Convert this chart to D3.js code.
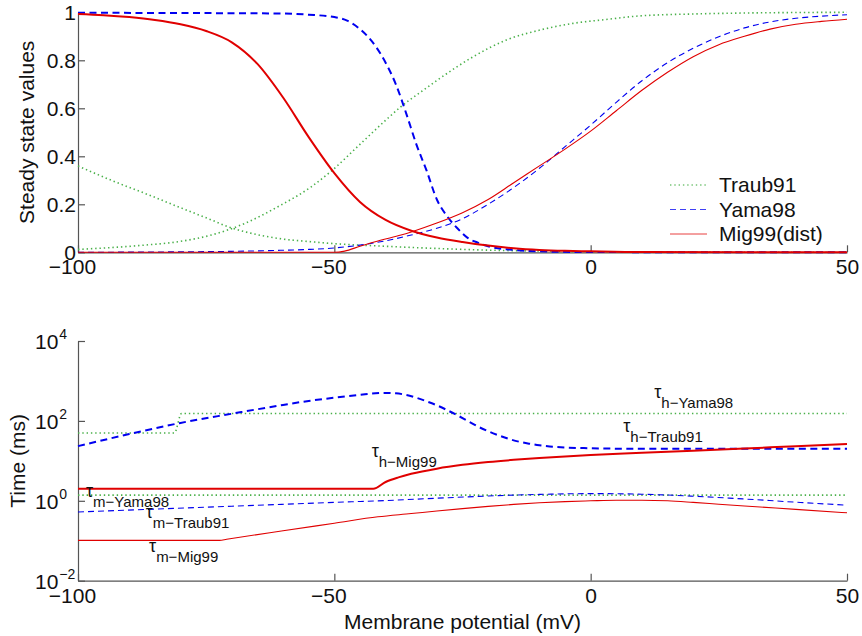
<!DOCTYPE html>
<html><head><meta charset="utf-8">
<script src="https://cdn.jsdelivr.net/npm/d3@7"></script>
<style>
body{margin:0;background:#fff}
text{font-family:"Liberation Sans",Arial,Helvetica,sans-serif;fill:#111}
</style>
</head><body>
<svg id="c" width="862" height="636"></svg>
<script>
// ---------- tick labels ----------
const xTicks = [-100, -50, 0, 50];
const yTopTicks = [0, 0.2, 0.4, 0.6, 0.8, 1];
const yTopTickLabels = ["0", "0.2", "0.4", "0.6", "0.8", "1"];
const yBotTicks = [1e-2, 1, 1e2, 1e4];
const yBotTickExp = ["\u22122", "0", "2", "4"];
const legendLabels = ["Traub91", "Yama98", "Mig99(dist)"];

// ---------- top panel: steady state values ----------
const vTraubM = [-100,-87,-80.5,-74,-67.5,-61,-54.5,-50.5,-45,-40,-37,-33,-29.4,-22.9,-16.4,-9.9,-3.4,3,9.6,20,30,50];
const traubM  = [0.012,0.03,0.044,0.072,0.12,0.19,0.273,0.34,0.45,0.55,0.607,0.67,0.725,0.815,0.885,0.926,0.954,0.97,0.985,0.993,0.997,1.0];
const vTraubH = [-100,-93.5,-87,-80.5,-74,-70.8,-67.5,-61,-54.5,-50,-41,-30,-20,-10,0,50];
const traubH  = [0.36,0.30,0.246,0.19,0.135,0.107,0.086,0.058,0.044,0.036,0.026,0.016,0.009,0.005,0.002,0];
const vYamaH = [-100,-60,-55,-50,-47.5,-45,-42,-40,-38,-36,-34,-32,-30,-28,-26,-24,-22,-20,-15,-10,0,50];
const yamaH  = [0.998,0.995,0.99,0.98,0.965,0.93,0.86,0.79,0.7,0.58,0.45,0.34,0.22,0.15,0.1,0.06,0.04,0.025,0.01,0.004,0.001,0];
const vYamaM = [-100,-80,-70,-61,-55,-50,-45,-40,-35,-30,-25,-20,-15,-10,-5,0,5,10,15,20,25,30,35,40,45,50];
const yamaM  = [0,0.002,0.004,0.008,0.012,0.018,0.03,0.048,0.072,0.1,0.14,0.2,0.27,0.35,0.44,0.53,0.625,0.715,0.79,0.85,0.898,0.935,0.96,0.975,0.984,0.99];
const vMigH = [-100,-95,-90,-85,-80,-75,-70,-65,-60,-55,-50,-45,-40,-35,-30,-25,-20,-15,-10,-5,0,10,50];
const migH  = [0.993,0.988,0.98,0.968,0.95,0.922,0.875,0.785,0.645,0.48,0.33,0.21,0.135,0.09,0.062,0.043,0.028,0.017,0.01,0.006,0.004,0.001,0];
const vMigM = [-100,-50,-48,-45,-41,-37,-35,-30,-25,-20,-15,-10,-5,0,5,10,15,20,25,30,35,40,45,50];
const migM  = [0,0,0.005,0.025,0.05,0.072,0.085,0.122,0.165,0.22,0.29,0.36,0.43,0.505,0.59,0.675,0.75,0.815,0.865,0.9,0.93,0.95,0.962,0.971];

// ---------- bottom panel: time constants (ms) ----------
const vTauHTraub = [-100,-81.2,-79.8,50];
const tauHTraub  = [50,50,153,153];
const vTauMTraub = [-100,50];
const tauMTraub  = [1.39,1.39];
const vTauHYama = [-100,-90,-80,-70,-60,-55,-50,-45,-42,-40,-38,-36,-34,-32,-30,-28,-26,-24,-22,-20,-18,-16,-14,-12,-10,-8,-5,0,10,50];
const tauHYama  = [23.4,46.8,89.1,151,251,316,380,447,490,501,490,447,380,309,245,186,138,100,72.4,55,43.7,35.5,30.2,26.9,24.5,22.9,21.6,20.7,20,20];
const vTauMYama = [-100,-70,-50,-40,-30,-20,-10,0,10,20,30,40,50];
const tauMYama  = [0.525,0.733,0.912,1.016,1.161,1.318,1.445,1.514,1.462,1.303,1.109,0.923,0.776];
const vTauHMig = [-100,-42.4,-40,-37.5,-35,-30,-25,-20,-15,-10,-5,0,10,20,30,40,50];
const tauHMig  = [2.0,2.0,2.95,3.85,4.73,6.38,7.94,9.33,10.59,11.75,12.88,13.96,15.85,17.99,20.42,23.17,26.3];
const vTauMMig = [-100,-72.4,-71,-60,-50,-41.5,-35,-30,-25,-20,-15,-10,-5,0,5,10,15,20,25,30,40,50];
const tauMMig  = [0.102,0.102,0.109,0.178,0.275,0.398,0.479,0.556,0.638,0.724,0.813,0.891,0.955,1.0,1.035,1.035,1.0,0.912,0.822,0.741,0.61,0.501];

// annotations: tau subscripts anchored at (V, ms)
const annV   = [-98.44, -86.8, -86.15, -42.72, 12.39, 6.35];
const annT   = [0.708, 0.211, 0.0299, 7.08, 216, 29.9];
const annSub = ["m\u2212Yama98","m\u2212Traub91","m\u2212Mig99","h\u2212Mig99","h\u2212Yama98","h\u2212Traub91"];

// ---------- styles ----------
const GREEN = "#49b049", BLUE = "#0000f0", RED = "#e00000";
const stTraub = {stroke: GREEN, width: 1.6, dash: "1.4,2.9"};
const stYamaThick = {stroke: BLUE, width: 2, dash: "7,4.5"};
const stYamaThin = {stroke: BLUE, width: 1.1, dash: "6,4"};
const stMigThick = {stroke: RED, width: 2};
const stMigThin = {stroke: RED, width: 1.1};

const svg = d3.select("#c");
const x = d3.scaleLinear().domain([-100, 50]).range([78, 847]);
const yTop = d3.scaleLinear().domain([0, 1]).range([252.3, 12.3]);
const yBot = d3.scaleLog().domain([1e-2, 1e4]).range([580.7, 341]);

function drawLine(vs, ys, yScale, st) {
  const pts = vs.map((v, i) => [v, ys[i]]);
  const line = d3.line().x(d => x(d[0])).y(d => yScale(d[1])).curve(d3.curveMonotoneX);
  svg.append("path").datum(pts)
    .attr("d", line).attr("fill", "none")
    .attr("stroke", st.stroke).attr("stroke-width", st.width)
    .attr("stroke-dasharray", st.dash || null)
    .attr("stroke-linejoin", "round");
}

// ---------- axes ----------
const AXC = "#555";
function styleAxis(g) {
  g.attr("font-size", 21).attr("font-family", "Liberation Sans, Arial, sans-serif");
  g.select(".domain").attr("stroke", AXC).attr("stroke-width", 1.2);
  g.selectAll(".tick line").attr("stroke", AXC).attr("stroke-width", 1.2);
  g.selectAll(".tick text").attr("fill", "#111");
}

// top x axis
svg.append("g").attr("transform", `translate(0,${yTop(0)})`)
  .call(d3.axisBottom(x).tickValues(xTicks).tickSizeInner(-7).tickSizeOuter(0).tickPadding(7).tickFormat(d3.format("d")))
  .call(styleAxis)
  .call(g => g.selectAll(".tick text").attr("dx", d => d < 0 ? -6 : 0));
// top y axis
svg.append("g").attr("transform", `translate(${x(-100)},0)`)
  .call(d3.axisLeft(yTop).tickValues(yTopTicks).tickSizeInner(-7).tickSizeOuter(0).tickPadding(2)
    .tickFormat((d, i) => yTopTickLabels[i]))
  .call(styleAxis);

// bottom x axis
svg.append("g").attr("transform", `translate(0,${yBot(1e-2)})`)
  .call(d3.axisBottom(x).tickValues(xTicks).tickSizeInner(-7).tickSizeOuter(0).tickPadding(7).tickFormat(d3.format("d")))
  .call(styleAxis)
  .call(g => g.selectAll(".tick text").attr("dx", d => d < 0 ? -6 : 0));
// bottom y axis (log)
svg.append("g").attr("transform", `translate(${x(-100)},0)`)
  .call(d3.axisLeft(yBot).tickValues(yBotTicks).tickSizeInner(-7).tickSizeOuter(0).tickFormat(""))
  .call(styleAxis);
yBotTicks.forEach((t, i) => {
  const tx = svg.append("text").attr("x", 35).attr("y", yBot(t) + 8)
    .attr("font-size", 21);
  tx.append("tspan").text("10");
  tx.append("tspan").attr("font-size", 14).attr("dy", -10).attr("dx", 1).text(yBotTickExp[i]);
});

// ---------- top panel lines ----------
drawLine(vTraubM, traubM, yTop, stTraub);
drawLine(vTraubH, traubH, yTop, stTraub);
drawLine(vYamaM, yamaM, yTop, stYamaThin);
drawLine(vYamaH, yamaH, yTop, stYamaThick);
drawLine(vMigM, migM, yTop, stMigThin);
drawLine(vMigH, migH, yTop, stMigThick);

// legend
const legStyles = [
  {stroke: GREEN, width: 1.4, dash: "1.4,2.9"},
  {stroke: BLUE, width: 1, dash: "6,4"},
  {stroke: RED, width: 1}
];
const legY = [185, 209.5, 234];
legendLabels.forEach((lab, i) => {
  svg.append("line").attr("x1", 670).attr("x2", 707).attr("y1", legY[i]).attr("y2", legY[i])
    .attr("stroke", legStyles[i].stroke).attr("stroke-width", legStyles[i].width)
    .attr("stroke-dasharray", legStyles[i].dash || null).attr("stroke-opacity", 0.75);
  svg.append("text").attr("x", 719).attr("y", legY[i]).attr("dy", "0.35em")
    .attr("font-size", 21).text(lab);
});

// ---------- bottom panel lines ----------
drawLine(vTauHTraub, tauHTraub, yBot, stTraub);
drawLine(vTauMTraub, tauMTraub, yBot, stTraub);
drawLine(vTauHYama, tauHYama, yBot, stYamaThick);
drawLine(vTauMYama, tauMYama, yBot, stYamaThin);
drawLine(vTauHMig, tauHMig, yBot, stMigThick);
drawLine(vTauMMig, tauMMig, yBot, stMigThin);

// annotations
annSub.forEach((s, i) => {
  const t = svg.append("text").attr("x", x(annV[i])).attr("y", yBot(annT[i]));
  t.append("tspan").attr("font-size", 18).attr("dy", -9.5).text("\u03c4");
  t.append("tspan").attr("font-size", 15).attr("dy", 9.5).text(s);
});

// axis labels
svg.append("text").attr("transform", `translate(34,${(yTop(0) + yTop(1)) / 2}) rotate(-90)`)
  .attr("text-anchor", "middle").attr("font-size", 21).text("Steady state values");
svg.append("text").attr("transform", `translate(25,${(yBot(1e-2) + yBot(1e4)) / 2}) rotate(-90)`)
  .attr("text-anchor", "middle").attr("font-size", 21).text("Time (ms)");
svg.append("text").attr("x", (x(-100) + x(50)) / 2).attr("y", 629)
  .attr("text-anchor", "middle").attr("font-size", 21).text("Membrane potential (mV)");
</script>
</body></html>
